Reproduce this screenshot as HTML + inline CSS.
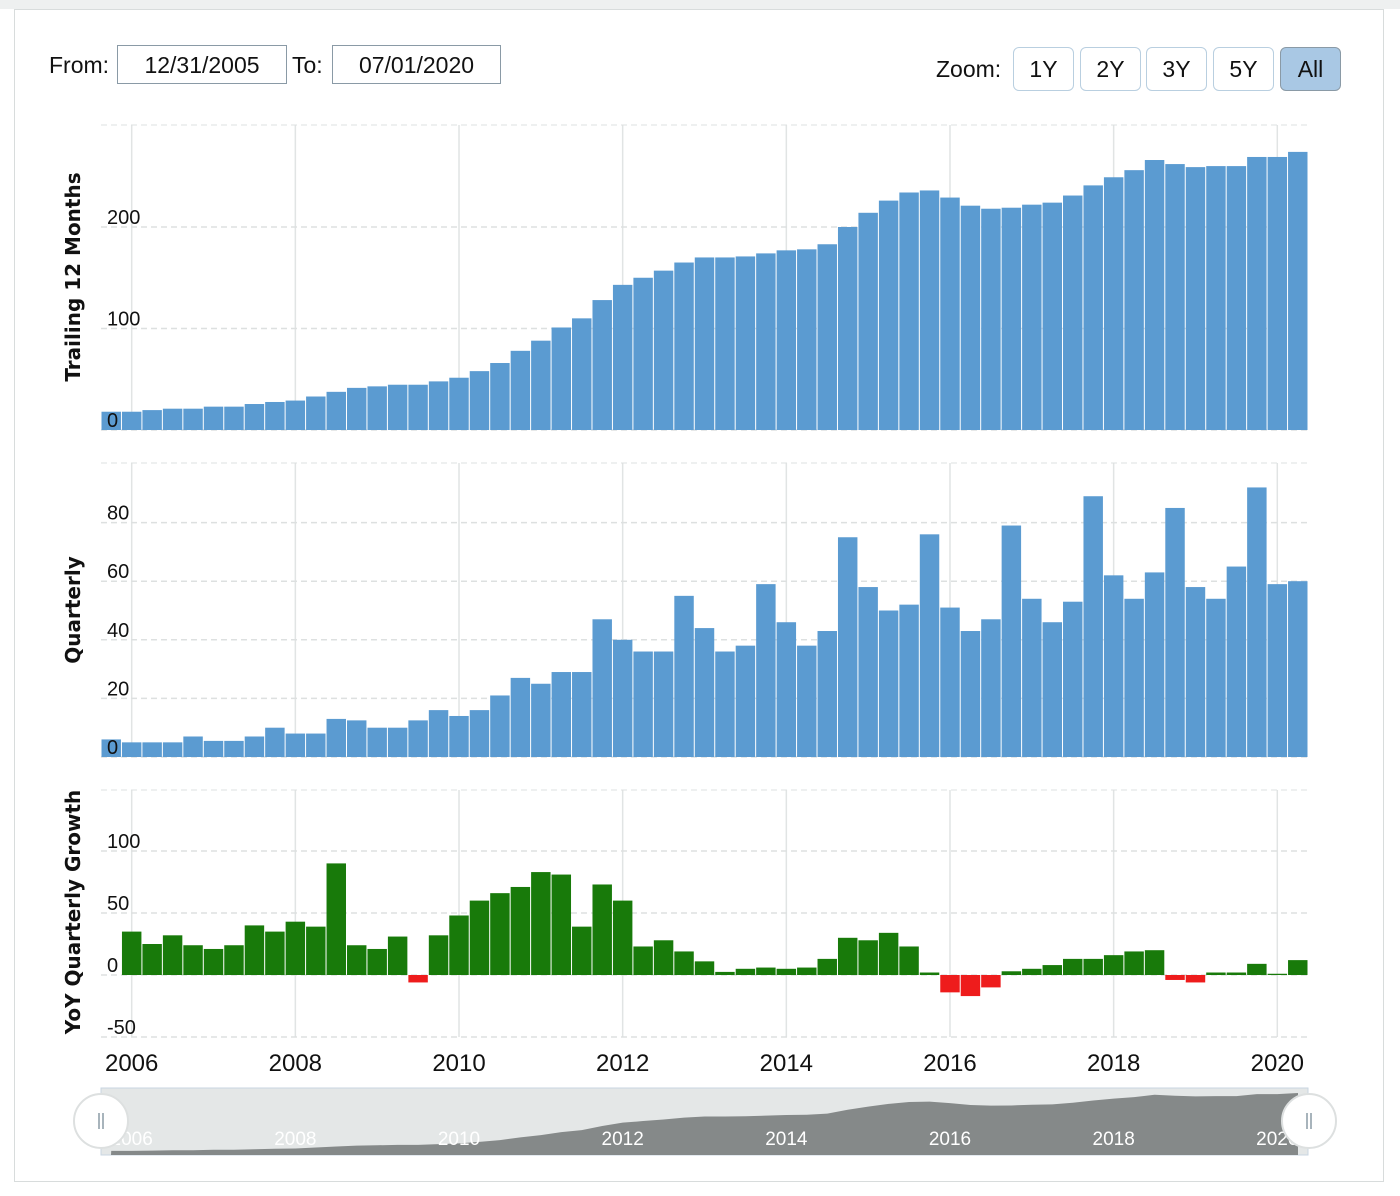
<!DOCTYPE html>
<html><head><meta charset="utf-8"><style>
html,body{margin:0;padding:0;background:#fff;width:1400px;height:1196px;overflow:hidden;font-family:"Liberation Sans",sans-serif}
.topband{position:absolute;left:0;top:0;width:1400px;height:9px;background:#eef0f0}
.card{position:absolute;left:14px;top:9px;width:1370px;height:1173px;border:1px solid #d8dcdc;box-sizing:border-box}
.lbl{position:absolute;font-size:23px;color:#111}
.inp{position:absolute;border:1px solid #8a9aa6;height:39px;box-sizing:border-box;font-size:23px;text-align:center;line-height:38px;color:#111}
.btn{position:absolute;top:47px;width:61px;height:44px;box-sizing:border-box;border:1px solid #b9cfe0;border-radius:6px;font-size:23px;text-align:center;line-height:42px;background:#fff;color:#111}
.btn.on{background:#a9c8e4;border-color:#8a9aa6}
svg{position:absolute;left:0;top:0}
</style></head><body>
<div class="topband"></div>
<div class="card"></div>
<div class="lbl" style="left:49px;top:52px">From:</div>
<div class="inp" style="left:117px;top:45px;width:170px">12/31/2005</div>
<div class="lbl" style="left:292px;top:52px">To:</div>
<div class="inp" style="left:332px;top:45px;width:169px">07/01/2020</div>
<div class="lbl" style="left:936px;top:56px">Zoom:</div>
<div class="btn" style="left:1013px">1Y</div>
<div class="btn" style="left:1080px">2Y</div>
<div class="btn" style="left:1146px">3Y</div>
<div class="btn" style="left:1213px">5Y</div>
<div class="btn on" style="left:1280px">All</div>
<svg id="chart" width="1400" height="1196" xmlns="http://www.w3.org/2000/svg"></svg>
<script>
const startYear = 2005; // first bar = 2005 Q4
const ttmValues = [18,18,19.6,21,21,23,23,25.6,27.6,29,33,37.6,41.5,43,44.6,44.6,47.9,51.5,58,66,78,88,101,110,128,143,150,157,165,170,170,171,174,177,178,183,200,214,226,234,236,229,221,218,219,222,224,231,241,249,256,266,262,259,260,260,269,269,274];
const quarterlyValues = [6,5,5,5,7,5.5,5.5,7,10,8,8,13,12.5,10,10,12.5,16,14,16,21,27,25,29,29,47,40,36,36,55,44,36,38,59,46,38,43,75,58,50,52,76,51,43,47,79,54,46,53,89,62,54,63,85,58,54,65,92,59,60];
const growthValues = [null,35,25,32,24,21,24,40,35,43,39,90,24,21,31,-6,32,48,60,66,71,83,81,39,73,60,23,28,19,11,2.5,5,6,5,6,13,30,28,34,23,2,-14,-17,-10,3,5,8,13,13,16,19,20,-4,-6,2,2,9,1,12];
const ttmTicks = [0,100,200];
const qTicks = [0,20,40,60,80];
const gTicks = [-50,0,50,100];
const yearLabels = [2006,2008,2010,2012,2014,2016,2018,2020];

const NS='http://www.w3.org/2000/svg';
const svg=document.getElementById('chart');
function mk(tag,attrs,parent){const e=document.createElementNS(NS,tag);for(const k in attrs)e.setAttribute(k,attrs[k]);(parent||svg).appendChild(e);return e;}
const X0=101,X1=1308,BAND=(X1-X0)/59;
function xCenter(i){return X0+BAND*(i+0.5);}
function xYear(y){return xCenter((y-2006)*4+1);}
const panels=[
 {name:'ttm',vals:ttmValues,ticks:ttmTicks,top:125,zero:430,ppu:1.015,title:'Trailing 12 Months',tcy:277},
 {name:'quarterly',vals:quarterlyValues,ticks:qTicks,top:463,zero:757,ppu:2.93,title:'Quarterly',tcy:610},
 {name:'growth',vals:growthValues,ticks:gTicks,top:790,zero:975,ppu:1.24,title:'YoY Quarterly Growth',tcy:912}
];
panels.forEach(p=>{
  const y=v=>p.zero-v*p.ppu;
  const bottom=p.name==='growth'?1037:p.zero;
  yearLabels.forEach(yr=>{
    const l=mk('line',{x1:xYear(yr),x2:xYear(yr),y1:p.top,y2:bottom,stroke:'#e1e4e4','stroke-width':1.5});
    
    
  });
  const tl=mk('line',{x1:X0,x2:X1,y1:p.top,y2:p.top,stroke:'#dde0e0','stroke-dasharray':'6,4'});
  
  
  p.ticks.forEach(t=>{
    const g=mk('line',{x1:X0,x2:X1,y1:y(t),y2:y(t),stroke:'#dde0e0','stroke-dasharray':'6,4','stroke-width':1.5});
    
    
  });
  p.vals.forEach((v,i)=>{
    if(v===null)return;
    const h=Math.abs(v)*p.ppu;
    const col=p.name==='growth'?(v<0?'#ee1c1c':'#187a0a'):'#5b9bd1';
    const r=mk('rect',{x:X0+BAND*i+0.5,y:v>=0?y(v):p.zero,width:BAND-1,height:Math.max(h,1),fill:col});
    
    
  });
  p.ticks.forEach(t=>{
    const tx=mk('text',{x:107,y:y(t)-3,'font-size':20,fill:'#111','font-family':'Liberation Sans, sans-serif'});
    tx.textContent=t;
    
    
  });
  const tt=mk('text',{x:0,y:0,transform:`translate(80,${p.tcy}) rotate(-90)`,'text-anchor':'middle','font-size':20,'font-weight':'bold',fill:'#111','font-family':'DejaVu Sans, sans-serif'});
  tt.textContent=p.title;
  
  
});
yearLabels.forEach(yr=>{
  const t=mk('text',{x:xYear(yr),y:1071,'text-anchor':'middle','font-size':24,fill:'#111','font-family':'Liberation Sans, sans-serif'});
  t.textContent=yr;
  
  
});
const NT=1088,NB=1155;
const nb=mk('rect',{x:X0,y:NT,width:X1-X0,height:NB-NT,fill:'#e4e7e7',stroke:'#c8d6e2'});


const ny=v=>NB-v*(62/274);
let d=`M${X0+10},${NB}`;
ttmValues.forEach((v,i)=>{d+=` L${xCenter(i)},${ny(v)}`;});
d+=` L${X1-10},${ny(ttmValues[ttmValues.length-1])} L${X1-10},${NB} Z`;
const na=mk('path',{d:d,fill:'#858989'});


yearLabels.forEach(yr=>{
  const t=mk('text',{x:xYear(yr),y:1145,'text-anchor':'middle','font-size':19,fill:'#fff','font-family':'Liberation Sans, sans-serif'});
  t.textContent=yr;
  
  
});
[101,1309].forEach((cx,k)=>{
  const c=mk('circle',{cx:cx,cy:1121,r:27,fill:'#fff',stroke:'#dde0e0','stroke-width':2});
  
  
  mk('line',{x1:cx-2,x2:cx-2,y1:1113,y2:1129,stroke:'#8a9aa6','stroke-width':1.5});
  mk('line',{x1:cx+2,x2:cx+2,y1:1113,y2:1129,stroke:'#8a9aa6','stroke-width':1.5});
});
</script>
</body></html>
